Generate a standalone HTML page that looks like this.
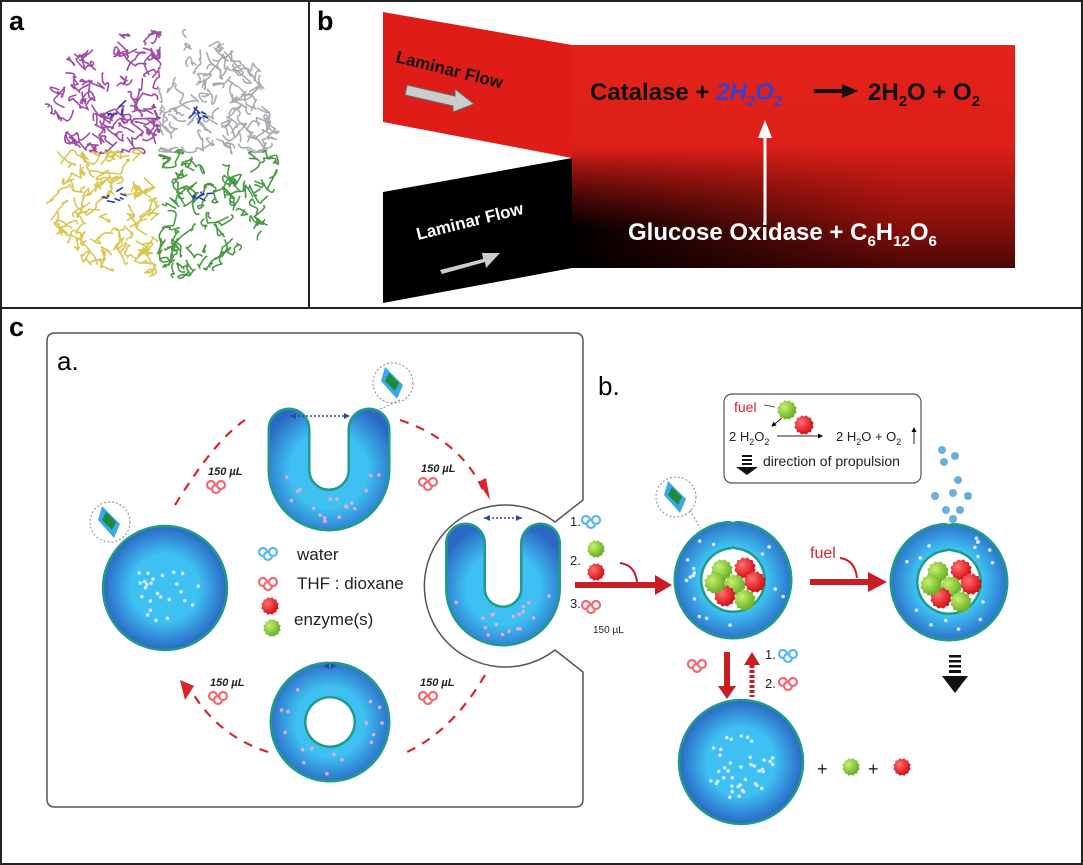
<!DOCTYPE html>
<html><head><meta charset="utf-8"><style>
html,body{margin:0;padding:0;background:#fff;}
svg{display:block;font-family:"Liberation Sans",sans-serif;}
</style></head><body>
<svg id="s" width="1083" height="865" viewBox="0 0 1083 865" xmlns="http://www.w3.org/2000/svg">
<defs>
<linearGradient id="mg" x1="0" y1="45" x2="0" y2="268" gradientUnits="userSpaceOnUse">
<stop offset="0" stop-color="#e2231a"/><stop offset="0.45" stop-color="#dc1f18"/><stop offset="0.8" stop-color="#8a100c"/><stop offset="1" stop-color="#4a0606"/></linearGradient>
<linearGradient id="mg2" x1="572" y1="0" x2="900" y2="0" gradientUnits="userSpaceOnUse"><stop offset="0" stop-color="#000" stop-opacity="1"/><stop offset="0.4" stop-color="#000" stop-opacity="0.6"/><stop offset="1" stop-color="#000" stop-opacity="0"/></linearGradient>
<linearGradient id="mg3" x1="0" y1="150" x2="0" y2="230" gradientUnits="userSpaceOnUse"><stop offset="0" stop-color="#fff" stop-opacity="0"/><stop offset="1" stop-color="#fff" stop-opacity="1"/></linearGradient>
<mask id="mk"><rect x="572" y="140" width="443" height="128" fill="url(#mg3)"/></mask>
<radialGradient id="rb" cx="0.35" cy="0.35" r="0.6"><stop offset="0" stop-color="#ff7070"/><stop offset="1" stop-color="#d8121b"/></radialGradient>
<radialGradient id="gb" cx="0.35" cy="0.35" r="0.6"><stop offset="0" stop-color="#c8ee70"/><stop offset="1" stop-color="#6cb42a"/></radialGradient>
<marker id="ah" viewBox="0 0 10 10" refX="8" refY="5" markerWidth="5" markerHeight="5" orient="auto"><path d="M0,0L10,5L0,10z" fill="#000"/></marker>
</defs>
<rect x="0" y="0" width="1083" height="865" fill="#fff"/>
<g id="prot" fill="none" stroke-width="1.6" stroke-linecap="round" stroke-linejoin="round"></g>
<rect x="1" y="1" width="1081" height="863" fill="none" stroke="#222" stroke-width="2"/>
<line x1="309" y1="0" x2="309" y2="308" stroke="#222" stroke-width="2"/>
<line x1="0" y1="308" x2="1083" y2="308" stroke="#222" stroke-width="2"/>
<text x="9" y="30" font-size="27" font-weight="bold">a</text>
<text x="317" y="30" font-size="27" font-weight="bold">b</text>
<text x="9" y="336" font-size="27" font-weight="bold">c</text>
<polygon points="383,12 572,45 572,158 383,122" fill="#e01c18"/>
<polygon points="383,192 572,158 572,268 383,303" fill="#000"/>
<rect x="572" y="45" width="443" height="223" fill="url(#mg)"/>
<rect x="572" y="140" width="443" height="128" fill="url(#mg2)" mask="url(#mk)"/>
<g transform="translate(395,62) rotate(14)"><text font-size="17" font-weight="bold" fill="#111">Laminar Flow</text></g>
<polygon points="407,85 455,96 455,89 474,104 453,112 453,106 405,95" fill="#ccc" stroke="#666" stroke-width="1"/>
<g transform="translate(418,240) rotate(-14)"><text font-size="17" font-weight="bold" fill="#fff">Laminar Flow</text></g>
<polygon points="440,270 483,259 482,253 500,253 486,268 485,262 442,274" fill="#ccc"/>
<text x="590" y="100" font-size="24" font-weight="bold" fill="#111">Catalase + <tspan fill="#3b3fd0" font-style="italic">2H<tspan font-size="15" dy="6">2</tspan><tspan dy="-6">O</tspan><tspan font-size="15" dy="6">2</tspan></tspan></text>
<line x1="814" y1="91" x2="845" y2="91" stroke="#111" stroke-width="4"/><polygon points="842,84 858,91 842,98" fill="#111"/>
<text x="868" y="100" font-size="24" font-weight="bold" fill="#111">2H<tspan font-size="15" dy="6">2</tspan><tspan dy="-6">O + O</tspan><tspan font-size="15" dy="6">2</tspan></text>
<line x1="765" y1="225" x2="765" y2="135" stroke="#fff" stroke-width="3"/><polygon points="758,138 765,120 772,138" fill="#fff"/>
<text x="628" y="240" font-size="24" font-weight="bold" fill="#fff">Glucose Oxidase + C<tspan font-size="15" dy="6">6</tspan><tspan dy="-6">H</tspan><tspan font-size="15" dy="6">12</tspan><tspan dy="-6">O</tspan><tspan font-size="15" dy="6">6</tspan></text>
<path d="M55,333 H575 Q583,333 583,341 V500 L555,522 A81,81 0 1 0 555,650 L583,672 V799 Q583,807 575,807 H55 Q47,807 47,799 V341 Q47,333 55,333 Z" fill="none" stroke="#555" stroke-width="1.5"/>
<text x="57" y="370" font-size="26">a.</text>
<text x="598" y="395" font-size="26">b.</text>
<g fill="none" stroke="#d8252e" stroke-width="2.2" stroke-dasharray="9,8">
<path d="M175,505 Q215,440 245,420"/>
<path d="M400,420 Q460,440 483,490"/>
<path d="M485,675 Q450,735 400,755"/>
<path d="M268,752 Q215,735 188,685"/>
</g>
<polygon points="478,482 490,500 486,478" fill="#d8252e"/>
<polygon points="180,680 185,700 194,686" fill="#d8252e"/>
<g id="vs"></g>
<g font-size="11" font-style="italic" font-weight="bold" fill="#222">
<text x="208" y="475">150 µL</text><text x="421" y="472">150 µL</text>
<text x="210" y="686">150 µL</text><text x="420" y="686">150 µL</text>
</g>
<g font-size="17" fill="#222"><text x="297" y="560">water</text><text x="297" y="589">THF : dioxane</text><text x="294" y="625">enzyme(s)</text></g>
<rect x="724" y="394" width="197" height="89" rx="8" fill="#fff" stroke="#555" stroke-width="1.2"/>
<text x="734" y="412" font-size="14" fill="#d8252e">fuel</text>
<path d="M764,405 L775,407" stroke="#555" fill="none"/>
<path d="M782,418 L772,426" stroke="#222" fill="none" marker-end="url(#ah)"/>
<text x="729" y="441" font-size="13" fill="#222">2 H<tspan font-size="9" dy="4">2</tspan><tspan dy="-4">O</tspan><tspan font-size="9" dy="4">2</tspan></text>
<line x1="777" y1="436" x2="822" y2="436" stroke="#222" stroke-width="1" marker-end="url(#ah)"/>
<text x="836" y="441" font-size="13" fill="#222">2 H<tspan font-size="9" dy="4">2</tspan><tspan dy="-4">O + O</tspan><tspan font-size="9" dy="4">2</tspan></text>
<line x1="914" y1="444" x2="914" y2="428" stroke="#222" marker-end="url(#ah)"/>
<text x="763" y="466" font-size="14" fill="#222">direction of propulsion</text>
<g fill="#111"><rect x="742" y="455" width="10" height="2"/><rect x="742" y="459" width="10" height="2"/><rect x="742" y="463" width="10" height="2"/><polygon points="736,467 758,467 747,475"/></g>
<g id="top"></g>
<g font-size="13" fill="#222"><text x="570" y="526">1.</text><text x="570" y="565">2.</text><text x="570" y="608">3.</text><text x="593" y="633" font-size="10">150 µL</text>
<text x="765" y="659">1.</text><text x="765" y="688">2.</text></g>
<text x="810" y="558" font-size="16" fill="#d8252e">fuel</text>
<g fill="#c81d25" stroke="none">
<rect x="575" y="582" width="82" height="6"/><polygon points="655,575 672,585 655,595"/>
<rect x="810" y="579" width="60" height="6"/><polygon points="868,572 887,582 868,592"/>
<rect x="724" y="652" width="6" height="36"/><polygon points="718,686 727,699 736,686"/>
<polygon points="744,665 752,652 760,665"/>
</g>
<path d="M752,665 V697" stroke="#c81d25" stroke-width="5" stroke-dasharray="3,2"/>
<path d="M620,563 Q635,565 637,582" fill="none" stroke="#c81d25" stroke-width="2"/>
<path d="M840,558 Q855,560 857,578" fill="none" stroke="#c81d25" stroke-width="2"/>
<text x="817" y="775" font-size="18" fill="#222">+</text><text x="868" y="775" font-size="18" fill="#222">+</text>
<g fill="#111"><rect x="949" y="655" width="12" height="2.5"/><rect x="949" y="660" width="12" height="2.5"/><rect x="949" y="665" width="12" height="2.5"/><rect x="949" y="670" width="12" height="3"/><polygon points="942,676 968,676 955,693"/></g>
</svg>
<script>
var NS="http://www.w3.org/2000/svg",s=document.getElementById("vs"),tp=document.getElementById("top");
function el(t,a,p){var e=document.createElementNS(NS,t);for(var k in a)e.setAttribute(k,a[k]);(p||s).appendChild(e);return e;}
var seed=7;function R(){seed=(seed*16807)%2147483647;return seed/2147483647;}
function cl(v,a,b){return v<a?a:(v>b?b:v);}
var pg=document.getElementById("prot");
var CX=160,CY=153,RX=120,RY=125;
function inE(x,y){var dx=(x-CX)/RX,dy=(y-CY)/RY;return Math.pow(Math.abs(dx),2.6)+Math.pow(Math.abs(dy),2.6)<1;}
var quads=[[40,28,160,152,"#a04aa8"],[160,28,282,152,"#a8acb0"],[40,152,160,280,"#d8c850"],[160,152,282,280,"#4a9a45"]];
quads.forEach(function(q){var n=0;while(n<75){var x=q[0]+R()*(q[2]-q[0]),y=q[1]+R()*(q[3]-q[1]);if(!inE(x,y))continue;n++;var d="M"+x+","+y;for(var j=0;j<3;j++){var nx=cl(x+(R()-.5)*22,q[0],q[2]),ny=cl(y+(R()-.5)*22,q[1],q[3]);if(!inE(nx,ny))continue;x=nx;y=ny;d+=" Q"+(x+(R()-.5)*12)+","+(y+(R()-.5)*12)+" "+x+","+y;}el("path",{d:d,stroke:q[4]},pg);}});
[[115,112],[200,112],[115,195],[200,195]].forEach(function(c){for(var i=0;i<7;i++)el("path",{d:"M"+(c[0]-8+R()*16)+","+(c[1]-6+R()*12)+" l"+((R()-.5)*14)+","+((R()-.5)*14),stroke:"#2a3aa8"},pg);});
function gr(cx,cy,r){var id="g"+Math.round(cx)+"_"+Math.round(cy);var g=el("radialGradient",{id:id,cx:cx,cy:cy,r:r,gradientUnits:"userSpaceOnUse"},document.querySelector("defs"));el("stop",{offset:"0.55","stop-color":"#3ec0f2"},g);el("stop",{offset:"1","stop-color":"#2b67c4"},g);return "url(#"+id+")";}
function circ(cx,cy,r,nd){el("circle",{cx:cx,cy:cy,r:r,fill:gr(cx,cy,r),stroke:"#1f9c86","stroke-width":2.5});for(var i=0;i<nd;i++){var a=R()*6.28,rr=Math.sqrt(R())*r*0.55;el("circle",{cx:cx+Math.cos(a)*rr,cy:cy+Math.sin(a)*rr+5,r:1.8,fill:"#d8e8f8"});}}
function U(cx,top,w,h,th){var R2=(w-th)/2,cy=top+h-th/2-R2;var g=gr(cx,cy,w/2+10);
var d="M"+(cx-R2)+","+(top+th/2)+" V"+cy+" A"+R2+","+R2+" 0 0 0 "+(cx+R2)+","+cy+" V"+(top+th/2);
el("path",{d:d,fill:"none",stroke:"#1f9c86","stroke-width":th+3,"stroke-linecap":"round"});
el("path",{d:d,fill:"none",stroke:g,"stroke-width":th-2,"stroke-linecap":"round"});
for(var i=0;i<18;i++){var a=R()*3.14,rr=R2+(R()-.5)*th*0.6;el("circle",{cx:cx+Math.cos(a)*rr,cy:cy+Math.sin(a)*rr,r:1.8,fill:"#e8a8d8"});}}
function V(cx,cy,r,th,gapDeg,fill){var g=gr(cx,cy,r+th/2+4);var a0=(-90+gapDeg)*Math.PI/180,a1=(-90-gapDeg)*Math.PI/180;
var d="M"+(cx+Math.cos(a0)*r)+","+(cy+Math.sin(a0)*r)+" A"+r+","+r+" 0 1 1 "+(cx+Math.cos(a1)*r)+","+(cy+Math.sin(a1)*r);
el("path",{d:d,fill:"none",stroke:"#1f9c86","stroke-width":th+3,"stroke-linecap":"round"});
el("path",{d:d,fill:"none",stroke:g,"stroke-width":th-2,"stroke-linecap":"round"});
for(var i=0;i<16;i++){var a=(gapDeg+20+R()*(320-2*gapDeg))*Math.PI/180-Math.PI/2,rr=r+(R()-.5)*th*0.6;el("circle",{cx:cx+Math.cos(a)*rr,cy:cy+Math.sin(a)*rr,r:1.8,fill:fill});}}
function mol(x,y,c,p){var f=c=="b"?"#59b8ee":"#ef6a72";[[0,0],[5,4],[10,0]].forEach(function(q){el("circle",{cx:x+q[0],cy:y+q[1],r:4,fill:"#fff",stroke:f,"stroke-width":2.2},p);});}
function enz(x,y,r,c,p){var d="";for(var i=0;i<24;i++){var a=i*Math.PI/12,rr=i%2?r:r*0.86;d+=(i?"L":"M")+(x+Math.cos(a)*rr)+","+(y+Math.sin(a)*rr);}el("path",{d:d+"Z",fill:c=="r"?"url(#rb)":"url(#gb)"},p);}
function zoomI(x,y){el("circle",{cx:x,cy:y,r:20,fill:"#fff",stroke:"#888","stroke-dasharray":"2,2"});el("polygon",{points:(x-8)+","+(y-16)+" "+(x+10)+","+(y+2)+" "+(x+4)+","+(y+16)+" "+(x-12)+","+(y-2),fill:"#3aa8e8"});el("polygon",{points:(x-4)+","+(y-10)+" "+(x+6)+","+(y)+" "+(x+2)+","+(y+8)+" "+(x-8)+","+(y-2),fill:"#1e8a3a"});}
circ(165,588,62,25);
U(329,409,120,121,40);U(503,524,113,121,38);
V(330,722,42,34,4,"#e8a8d8");
V(733,580,45,26,7,"#d8e8f8");V(949,582,45,26,7,"#d8e8f8");
circ(741,762,62,40);
[[290,416,350,416],[484,518,522,518]].forEach(function(a){el("line",{x1:a[0],y1:a[1],x2:a[2],y2:a[3],stroke:"#2a4aa8","stroke-dasharray":"2,2","stroke-width":1.5});el("polygon",{points:a[0]+","+a[1]+" "+(a[0]+6)+","+(a[1]-3)+" "+(a[0]+6)+","+(a[1]+3),fill:"#2a4aa8"});el("polygon",{points:a[2]+","+a[3]+" "+(a[2]-6)+","+(a[3]-3)+" "+(a[2]-6)+","+(a[3]+3),fill:"#2a4aa8"});});
el("polygon",{points:"323,666 329,663 329,669",fill:"#2a4aa8"});el("polygon",{points:"337,666 331,663 331,669",fill:"#2a4aa8"});
zoomI(393,383);zoomI(110,522);zoomI(676,497);
el("line",{x1:400,y1:400,x2:372,y2:413,stroke:"#888","stroke-dasharray":"2,2"});el("line",{x1:690,y1:510,x2:700,y2:528,stroke:"#888","stroke-dasharray":"2,2"});
[[722,570,"g"],[745,568,"r"],[735,585,"g"],[755,582,"r"],[725,596,"r"],[745,600,"g"],[715,583,"g"]].forEach(function(e){enz(e[0],e[1],11,e[2]);enz(e[0]+216,e[1]+2,11,e[2]);});
mol(263,552,"b");mol(263,582,"r");enz(270,606,9,"r");enz(272,628,9,"g");
mol(211,485,"r");mol(423,482,"r");mol(213,696,"r");mol(423,696,"r");
mol(586,520,"b");enz(596,549,9,"g");enz(596,572,9,"r");mol(586,605,"r");
mol(692,664,"r");mol(783,654,"b");mol(783,682,"r");
enz(787,410,10,"g",tp);enz(804,425,10,"r",tp);enz(851,767,9,"g");enz(902,767,9,"r");
[[942,450],[955,456],[944,462],[958,480],[935,496],[953,493],[968,496],[946,510],[960,510],[953,519]].forEach(function(p){el("circle",{cx:p[0],cy:p[1],r:4,fill:"#6ab0dd"});});
</script>
</body></html>
